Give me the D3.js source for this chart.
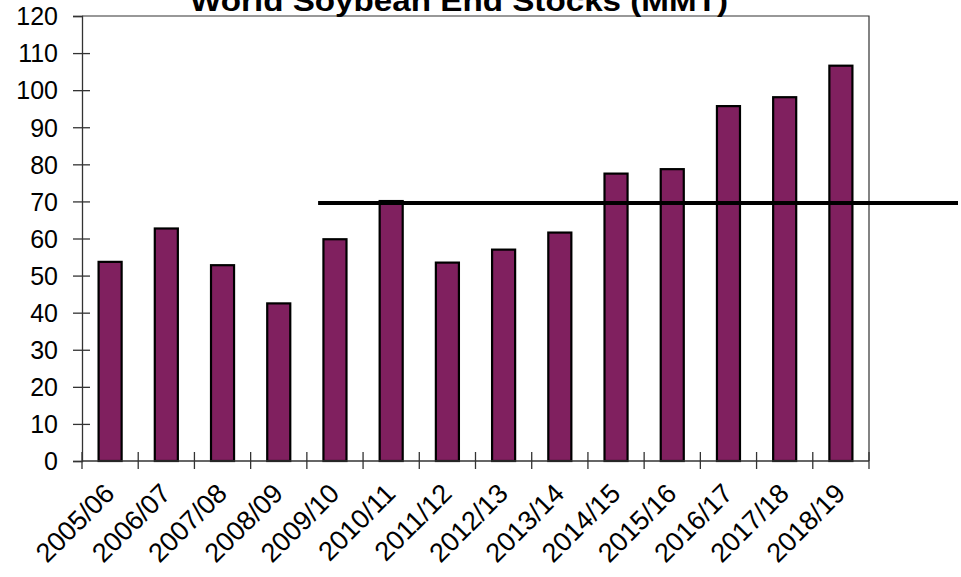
<!DOCTYPE html>
<html>
<head>
<meta charset="utf-8">
<script src="https://cdn.jsdelivr.net/npm/d3@7"></script>
<style>
  body { margin: 0; background: #fff; }
  text { font-family: "Liberation Sans", Arial, sans-serif; fill: #000; }
</style>
</head>
<body>
<svg id="chart" width="961" height="577"></svg>
<script>
// data
const seasons = ["2005/06", "2006/07", "2007/08", "2008/09", "2009/10", "2010/11", "2011/12",
  "2012/13", "2013/14", "2014/15", "2015/16", "2016/17", "2017/18", "2018/19"];
const endStocks = [53.7, 62.7, 52.8, 42.5, 59.8, 70.1, 53.5, 57.0, 61.6, 77.5, 78.7, 95.7, 98.1, 106.6];
const yTicks = [0, 10, 20, 30, 40, 50, 60, 70, 80, 90, 100, 110, 120];
const refLine = { value: 69.6, from: "2009/10" };
const title = "World Soybean End Stocks (MMT)";

const svg = d3.select("#chart");
const width = +svg.attr("width");
const margin = { top: 16, right: 92, bottom: 116, left: 82 };
const innerW = width - margin.left - margin.right;
const innerH = +svg.attr("height") - margin.top - margin.bottom;

const x = d3.scaleBand().domain(seasons).range([0, innerW]).padding(0);
const y = d3.scaleLinear().domain([0, 120]).range([innerH, 0]);

const g = svg.append("g").attr("transform", `translate(${margin.left},${margin.top})`);

// frame (top + right)
g.append("path")
  .attr("d", `M0,0H${innerW}V${innerH}`)
  .attr("fill", "none")
  .attr("stroke", "#333")
  .attr("stroke-width", 1.2);

// bars
const barW = x.bandwidth() * 0.41;
g.selectAll("rect.bar")
  .data(seasons)
  .enter().append("rect")
  .attr("class", "bar")
  .attr("x", (d) => x(d) + (x.bandwidth() - barW) / 2)
  .attr("y", (d, i) => y(endStocks[i]))
  .attr("width", barW)
  .attr("height", (d, i) => innerH - y(endStocks[i]))
  .attr("fill", "#80205f")
  .attr("stroke", "#000")
  .attr("stroke-width", 2.2);

// y axis
const yAxis = g.append("g")
  .call(d3.axisLeft(y).tickValues(yTicks).tickSize(9).tickPadding(15));
yAxis.select(".domain").attr("stroke", "#333").attr("stroke-width", 1.3);
yAxis.selectAll(".tick line").attr("stroke", "#333").attr("stroke-width", 1.3)
  .attr("x2", -9).attr("x1", (d) => (d === 0 || d === 120 ? 0 : 8));
yAxis.selectAll(".tick text")
  .style("font-size", "25px").attr("fill", "#000").attr("dy", "0.35em");

// x axis: ticks at category boundaries
const xAxis = g.append("g").attr("transform", `translate(0,${innerH})`);
xAxis.append("line")
  .attr("x1", 0).attr("x2", innerW)
  .attr("stroke", "#333").attr("stroke-width", 1.3);
xAxis.selectAll("line.tk")
  .data(seasons.concat(["end"]))
  .enter().append("line")
  .attr("class", "tk")
  .attr("x1", (d, i) => (i < seasons.length ? x(d) : innerW))
  .attr("x2", (d, i) => (i < seasons.length ? x(d) : innerW))
  .attr("y1", -9).attr("y2", 8)
  .attr("stroke", "#333").attr("stroke-width", 1.3);
xAxis.selectAll("text")
  .data(seasons)
  .enter().append("text")
  .attr("transform", (d) => `translate(${x(d) + x.bandwidth() / 2 + 6},${34}) rotate(-45)`)
  .attr("text-anchor", "end")
  .style("font-size", "27px")
  .text((d) => d);

// reference line, runs past the plot to the page edge
g.append("line")
  .attr("x1", x(refLine.from) + x.bandwidth() * 0.2)
  .attr("x2", width - margin.left - 3)
  .attr("y1", y(refLine.value))
  .attr("y2", y(refLine.value))
  .attr("stroke", "#000")
  .attr("stroke-width", 4);

// title (cut off at the top, as in the source image)
svg.append("text")
  .attr("x", 459)
  .attr("y", 11)
  .attr("text-anchor", "middle")
  .attr("textLength", 538)
  .attr("lengthAdjust", "spacingAndGlyphs")
  .style("font-size", "30px")
  .style("font-weight", "bold")
  .text(title);
</script>
</body>
</html>
